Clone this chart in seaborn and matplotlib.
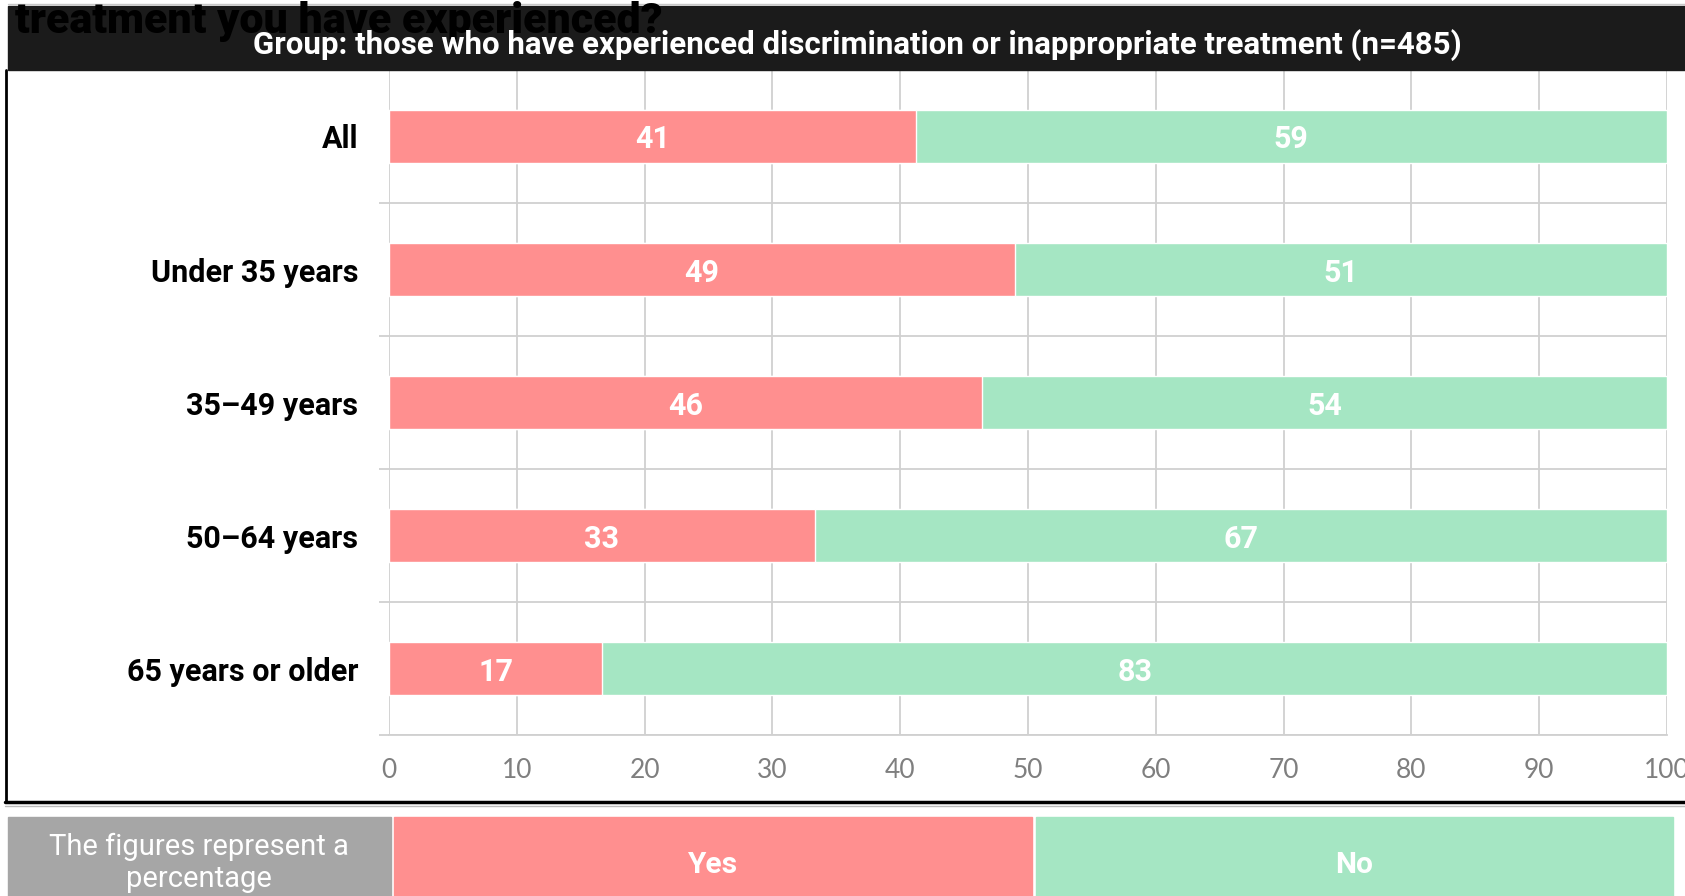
import pandas as pd
import seaborn as sns
import matplotlib.pyplot as plt
from matplotlib.patches import Rectangle
from matplotlib.lines import Line2D

# data (percent)
categories = ["All", "Under 35 years", "35\u201349 years", "50\u201364 years", "65 years or older"]
yes_pct = [41.2, 49.0, 46.4, 33.3, 16.7]
no_pct = [58.8, 51.0, 53.6, 66.7, 83.3]
x_ticks = [0, 10, 20, 30, 40, 50, 60, 70, 80, 90, 100]

title_text = "treatment you have experienced?"
group_text = "Group: those who have experienced discrimination or inappropriate treatment (n=485)"
note_text = "The figures represent a\npercentage"

PINK = "#ff8f8f"
GREEN = "#a5e6c3"
W, H = 1685, 896

df = pd.DataFrame({"cat": categories, "yes": yes_pct, "no": no_pct})
df["total"] = df["yes"] + df["no"]

sns.set_style("white")
plt.rcParams["font.family"] = ["Roboto", "DejaVu Sans"]

fig = plt.figure(figsize=(W / 100, H / 100), dpi=100)

# header band with the cut-off question title behind the group line
fig.add_artist(Rectangle((8 / W, 1 - 70 / H), 1 - 8 / W, 64 / H,
                         transform=fig.transFigure, color="#1b1b1b", zorder=1))
fig.add_artist(Line2D([8 / W, 1], [1 - 4 / H, 1 - 4 / H], color="#c8c8c8", lw=1))
fig.text(15 / W, 1 - 33 / H, title_text, fontsize=31, fontweight="heavy",
         color="black", ha="left", va="baseline", zorder=2)
fig.text(857 / W, 1 - 42 / H, group_text, fontsize=22.5, fontweight="bold",
         color="white", ha="center", va="center_baseline", zorder=3)

ax = fig.add_axes([389 / W, 1 - 735 / H, 1278 / W, 665 / H])
sns.barplot(data=df, x="total", y="cat", color=GREEN, width=0.4,
            saturation=1, ax=ax, zorder=2)
sns.barplot(data=df, x="yes", y="cat", color=PINK, width=0.4,
            saturation=1, ax=ax, zorder=3)

for i, (y, n) in enumerate(zip(yes_pct, no_pct)):
    ax.text(y / 2, i, f"{round(y)}", ha="center", va="center_baseline", color="white",
            fontsize=22, fontweight="bold", zorder=4)
    ax.text(y + n / 2, i, f"{round(n)}", ha="center", va="center_baseline", color="white",
            fontsize=22, fontweight="bold", zorder=4)

ax.set_xlim(0, 100)
ax.set_ylim(4.5, -0.5)
ax.set_xlabel("")
ax.set_ylabel("")
ax.set_xticks(x_ticks)
ax.set_yticks([0.5, 1.5, 2.5, 3.5, 4.5], minor=True)
ax.set_axisbelow(True)
ax.grid(False)
ax.xaxis.grid(True, color="#d0d0d0", lw=1.3)
ax.yaxis.grid(True, which="minor", color="#d0d0d0", lw=1.3)
for s in ["left", "top", "right"]:
    ax.spines[s].set_visible(False)
ax.spines["bottom"].set_color("#d0d0d0")
ax.spines["bottom"].set_linewidth(1.3)
ax.tick_params(axis="x", direction="out", length=6.5, width=1.3, color="#d0d0d0",
               labelcolor="#7f7f7f", labelsize=19, pad=10)
ax.tick_params(axis="y", which="major", length=0, pad=22, labelsize=22, labelcolor="black")
ax.tick_params(axis="y", which="minor", left=True, direction="out", length=7,
               width=1.3, color="#d0d0d0")
for lab in ax.get_yticklabels():
    lab.set_fontweight("bold")
for lab in ax.get_xticklabels():
    lab.set_family(["Lato", "DejaVu Sans"])

# frame lines
fig.add_artist(Line2D([6 / W, 6 / W], [1 - 70 / H, 1 - 802 / H], color="black", lw=2))
fig.add_artist(Line2D([5 / W, 1], [1 - 802 / H, 1 - 802 / H], color="black", lw=2.5))
fig.add_artist(Line2D([5 / W, 1], [1 - 806 / H, 1 - 806 / H], color="#bbbbbb", lw=1))

# legend strip
fig.add_artist(Rectangle((8 / W, 0), 383 / W, 79 / H, transform=fig.transFigure,
                         color="#a6a6a6"))
fig.add_artist(Rectangle((394 / W, 0), 638 / W, 79 / H, transform=fig.transFigure,
                         color=PINK))
fig.add_artist(Rectangle((1036 / W, 0), 637 / W, 79 / H, transform=fig.transFigure,
                         color=GREEN))
fig.text(199 / W, 1 - 863 / H, note_text, ha="center", va="center", color="white",
         fontsize=21, fontweight="normal", linespacing=1.2)
fig.text(713 / W, 1 - 862 / H, "Yes", ha="center", va="center_baseline", color="white",
         fontsize=21.5, fontweight="bold")
fig.text(1354 / W, 1 - 862 / H, "No", ha="center", va="center_baseline", color="white",
         fontsize=21.5, fontweight="bold")

fig.savefig("out.png", dpi=100)
